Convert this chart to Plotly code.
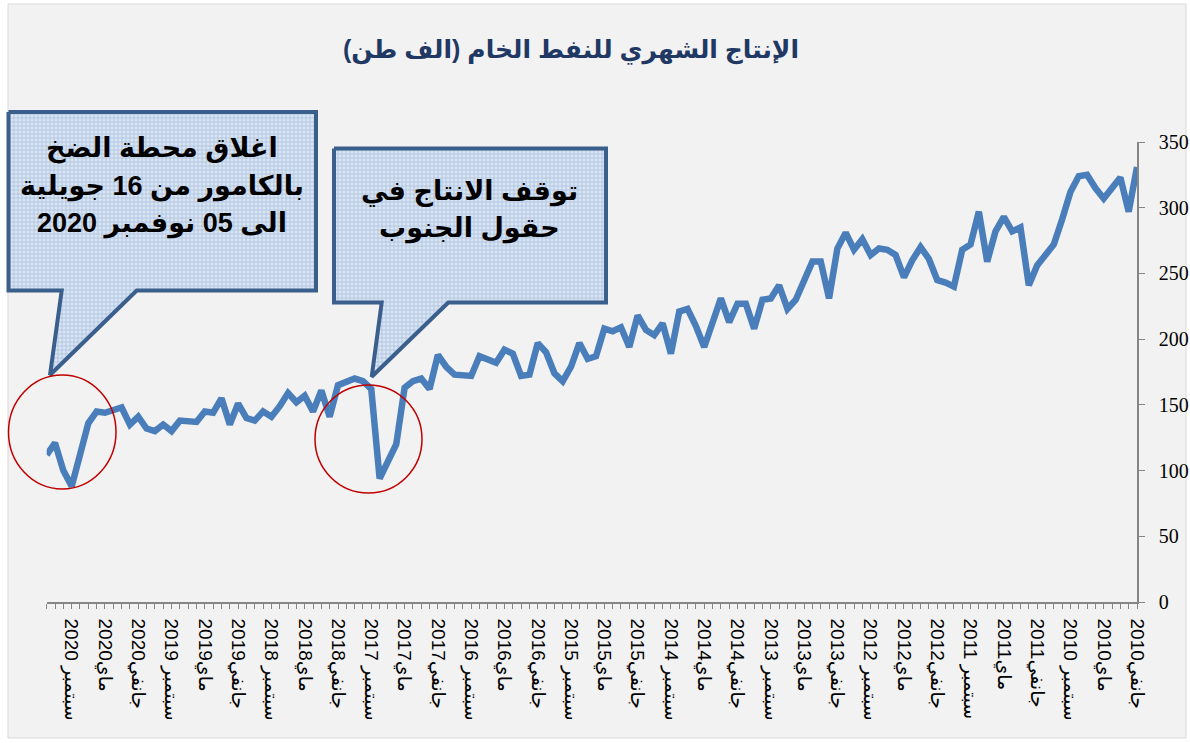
import plotly.graph_objects as go

W, H = 1190, 743

# ---------------- data ----------------
months = ["جانفي", "فيفري", "مارس", "أفريل", "ماي", "جوان",
          "جويلية", "أوت", "سبتمبر", "أكتوبر", "نوفمبر", "ديسمبر"]
years = [2010, 2011, 2012, 2013, 2014, 2015, 2016, 2017, 2018, 2019, 2020]
categories = [f"{m} {y}" for y in years for m in months]

# monthly crude oil production (thousand tonnes), Jan 2010 .. Dec 2020
production = [
    331, 297, 323, 315, 307, 315, 325, 324, 312, 291, 272, 264,   # 2010
    256, 241, 285, 282, 293, 282, 259, 297, 272, 268, 240, 243,   # 2011
    245, 261, 270, 260, 247, 264, 268, 269, 264, 276, 268, 281,   # 2012
    269, 231, 259, 259, 245, 230, 223, 241, 231, 230, 208, 227,   # 2013
    227, 213, 231, 212, 194, 210, 223, 221, 189, 212, 203, 207,   # 2014
    218, 194, 209, 206, 208, 187, 185, 197, 179, 168, 174, 190,   # 2015
    197, 173, 172, 189, 192, 182, 184, 187, 172, 172, 173, 179,   # 2016
    188, 162, 170, 168, 163, 120, 107, 94, 162, 168, 170, 168,    # 2017
    165, 141, 161, 145, 157, 152, 159, 149, 141, 145, 138, 140,   # 2018
    151, 135, 155, 144, 145, 137, 137, 138, 130, 135, 130, 132,   # 2019
    141, 135, 148, 146, 144, 145, 136, 112, 88, 100, 121, 112,    # 2020
]

labelled_months = {"جانفي": "", "ماي": "", "سبتمبر": " "}
tick_text = []
for y in years:
    for m in months:
        tick_text.append(f"{m}{labelled_months[m]}{y}" if m in labelled_months else "")

title_text = "الإنتاج الشهري للنفط الخام (الف طن)"
callout1_lines = ["اغلاق محطة الضخ", "بالكامور من 16 جويلية", "الى 05 نوفمبر 2020"]
callout2_lines = ["توقف الانتاج في", "حقول الجنوب"]

# ---------------- layout geometry (pixels) ----------------
PL, PR, PT, PB = 46.7, 1137, 142, 602

fig = go.Figure()

# main series
fig.add_trace(go.Scatter(
    x=categories, y=production, mode="lines",
    line=dict(color="#4a7ebb", width=6.5),
    xaxis="x", yaxis="y", hoverinfo="skip", showlegend=False,
))

# callout shapes on a full-page pixel overlay subplot
def callout(pts):
    xs = [p[0] for p in pts] + [pts[0][0]]
    ys = [p[1] for p in pts] + [pts[0][1]]
    return go.Scatter(
        x=xs, y=ys, mode="lines", fill="toself",
        fillcolor="#c9d8ec",
        fillpattern=dict(shape="+", fgcolor="#7d9fd0", bgcolor="#dbe5f2",
                         size=4, solidity=0.4),
        line=dict(color="#3b5f8c", width=4),
        xaxis="x2", yaxis="y2", hoverinfo="skip", showlegend=False,
    )

fig.add_trace(callout([(8.5, 112), (316, 112), (316, 290.5), (136.7, 290.5),
                       (50, 375), (61.7, 290.5), (8.5, 290.5)]))
fig.add_trace(callout([(334, 148.5), (606, 148.5), (606, 302.5), (448.3, 302.5),
                       (371.7, 376.7), (381.7, 302.5), (334, 302.5)]))

annotations = []
for txt, yy in zip(callout1_lines, [148, 186, 223]):
    annotations.append(dict(x=162, y=yy, xref="x2", yref="y2", text=f"<b>{txt}</b>",
                            showarrow=False, xanchor="center", yanchor="middle",
                            font=dict(family="Arial, DejaVu Sans", size=27, color="black")))
for txt, yy in zip(callout2_lines, [191, 228]):
    annotations.append(dict(x=469, y=yy, xref="x2", yref="y2", text=f"<b>{txt}</b>",
                            showarrow=False, xanchor="center", yanchor="middle",
                            font=dict(family="Arial, DejaVu Sans", size=27, color="black")))

shapes = [
    dict(type="rect", xref="paper", yref="paper",
         x0=8 / W, x1=1186 / W, y0=1 - 738 / H, y1=1 - 4 / H,
         fillcolor="#f2f2f2", line=dict(color="#d9d9d9", width=1), layer="below"),
    dict(type="circle", xref="x2", yref="y2", x0=8.5, x1=116, y0=375, y1=489,
         line=dict(color="#c00000", width=1.5)),
    dict(type="circle", xref="x2", yref="y2", x0=315, x1=422, y0=385, y1=493,
         line=dict(color="#c00000", width=1.5)),
]

fig.update_layout(
    width=W, height=H,
    margin=dict(l=0, r=0, t=0, b=0),
    paper_bgcolor="white",
    plot_bgcolor="rgba(0,0,0,0)",
    showlegend=False,
    title=dict(text=f"<b>{title_text}\u200f</b>", x=571 / W, y=1 - 49 / H,
               xref="paper", yref="paper", xanchor="center", yanchor="middle",
               font=dict(family="Arial, DejaVu Sans", size=25, color="#1f3864")),
    xaxis=dict(
        domain=[PL / W, PR / W], anchor="y", type="category",
        range=[len(categories) - 1, 0], automargin=False,
        tickmode="array", tickvals=categories, ticktext=tick_text,
        tickangle=90, ticks="outside", ticklen=5, tickcolor="#868686", tickwidth=1,
        showline=True, linecolor="#868686", linewidth=1.5, showgrid=False, zeroline=False,
        tickfont=dict(family="Arial, DejaVu Sans", size=19, color="black"),
        ticklabelstandoff=6,
    ),
    yaxis=dict(
        domain=[1 - PB / H, 1 - PT / H], anchor="x", side="right",
        range=[0, 350], dtick=50, automargin=False,
        ticks="outside", ticklen=6, tickcolor="#868686", tickwidth=1,
        showline=True, linecolor="#868686", linewidth=1.5, showgrid=False, zeroline=False,
        tickfont=dict(family="Liberation Serif", size=20, color="black"),
        ticklabelstandoff=10,
    ),
    xaxis2=dict(domain=[0, 1], anchor="y2", range=[0, W], visible=False, fixedrange=True),
    yaxis2=dict(domain=[0, 1], anchor="x2", range=[H, 0], visible=False, fixedrange=True),
    shapes=shapes,
    annotations=annotations,
)

fig.write_html("out.html", config={"displayModeBar": False},
               post_script="document.body.style.margin='0';")
